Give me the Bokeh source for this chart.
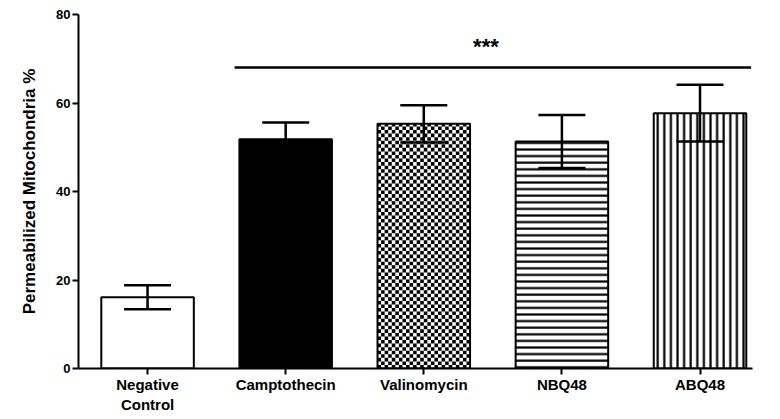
import numpy as np
from bokeh.plotting import figure
from bokeh.models import Range1d, FixedTicker, ColumnDataSource
from bokeh.core.properties import value
from bokeh.embed import file_html
from bokeh.resources import INLINE

# ---- data ----
categories = ["Negative\nControl", "Camptothecin", "Valinomycin", "NBQ48", "ABQ48"]
means = [16.1, 51.8, 55.3, 51.3, 57.7]
sems = [2.7, 3.8, 4.2, 6.0, 6.4]
fills = ["white", "black", "white", "white", "white"]
hatches = [" ", " ", " ", "-", "|"]
y_ticks = [0, 20, 40, 60, 80]
sig_label = "***"
sig_y = 68.0
sig_x0, sig_x1 = 0.63, 4.37

FONT = "Liberation Sans"
BAR_W = 0.67
CAP_W = 0.34

x = list(range(len(categories)))

W, H = 780, 419
BL, BR, BT, BB = 78, 28, 14, 51

p = figure(width=W, height=H, output_backend="svg", toolbar_location=None,
           x_range=Range1d(-0.5, 4.38), y_range=Range1d(0, 80),
           min_border_left=BL, min_border_right=BR, min_border_top=BT, min_border_bottom=BB)
p.outline_line_color = None
p.xgrid.visible = False
p.ygrid.visible = False
p.background_fill_color = "white"

src = ColumnDataSource(dict(x=x, top=means, fill=fills, hatch=hatches))
p.vbar(x="x", top="top", width=BAR_W, source=src, fill_color="fill", line_color=None,
       hatch_pattern="hatch", hatch_color="black", hatch_weight=2.2, hatch_scale=6.6)

# checkerboard for Valinomycin
vi = 2
left = x[vi] - BAR_W / 2
ncols = 26
cw = BAR_W / ncols
px_per_x = (W - BL - BR) / 4.88
px_per_y = (H - BT - BB) / 80
ch = cw * px_per_x / px_per_y
nrows = int(np.ceil(means[vi] / ch))
L, R, B, T = [], [], [], []
for r in range(nrows):
    for c in range(ncols):
        if (r + c) % 2 == 0:
            L.append(left + c * cw)
            R.append(left + (c + 1) * cw)
            B.append(r * ch)
            T.append(min((r + 1) * ch, means[vi]))
p.quad(left=L, right=R, bottom=B, top=T, fill_color="black", line_color=None)

# outlines
p.vbar(x=x, top=means, width=BAR_W, fill_color=None, line_color="black", line_width=2)

# error bars
lo = [m - s for m, s in zip(means, sems)]
hi = [m + s for m, s in zip(means, sems)]
p.segment(x0=x, y0=lo, x1=x, y1=hi, line_color="black", line_width=2.5)
xl = [v - CAP_W / 2 for v in x]
xr = [v + CAP_W / 2 for v in x]
p.segment(x0=xl, y0=hi, x1=xr, y1=hi, line_color="black", line_width=2.5)
p.segment(x0=xl, y0=lo, x1=xr, y1=lo, line_color="black", line_width=2.5)

# significance
p.segment(x0=[sig_x0], y0=[sig_y], x1=[sig_x1], y1=[sig_y], line_color="black", line_width=2.5)
p.text(x=[2.45], y=[sig_y + 2.0], text=[sig_label], text_font=value(FONT),
       text_font_style="bold", text_font_size="22px", text_align="center",
       text_baseline="bottom", text_color="black")

# axes
p.xaxis.ticker = FixedTicker(ticks=x)
p.xaxis.major_label_overrides = {i: c for i, c in enumerate(categories)}
p.xaxis.minor_tick_line_color = None
p.xaxis.major_tick_out = 6
p.xaxis.major_tick_in = 0
p.xaxis.axis_line_width = 2
p.xaxis.major_tick_line_width = 2
p.xaxis.major_label_text_font = FONT
p.xaxis.major_label_text_font_style = "bold"
p.xaxis.major_label_text_font_size = "15px"
p.xaxis.major_label_text_color = "black"
p.xaxis.major_label_standoff = 1

p.yaxis.ticker = FixedTicker(ticks=y_ticks)
p.yaxis.minor_tick_line_color = None
p.yaxis.major_tick_out = 6
p.yaxis.major_tick_in = 0
p.yaxis.axis_line_width = 2
p.yaxis.major_tick_line_width = 2
p.yaxis.major_label_text_font = FONT
p.yaxis.major_label_text_font_style = "bold"
p.yaxis.major_label_text_font_size = "13px"
p.yaxis.major_label_text_color = "black"
p.yaxis.major_label_standoff = 2
p.yaxis.axis_label = "Permeabilized Mitochondria %"
p.yaxis.axis_label_text_font = FONT
p.yaxis.axis_label_text_font_style = "bold"
p.yaxis.axis_label_text_font_size = "17px"
p.yaxis.axis_label_text_color = "black"
p.yaxis.axis_label_standoff = 14

open("out.html", "w").write(file_html(p, INLINE))
